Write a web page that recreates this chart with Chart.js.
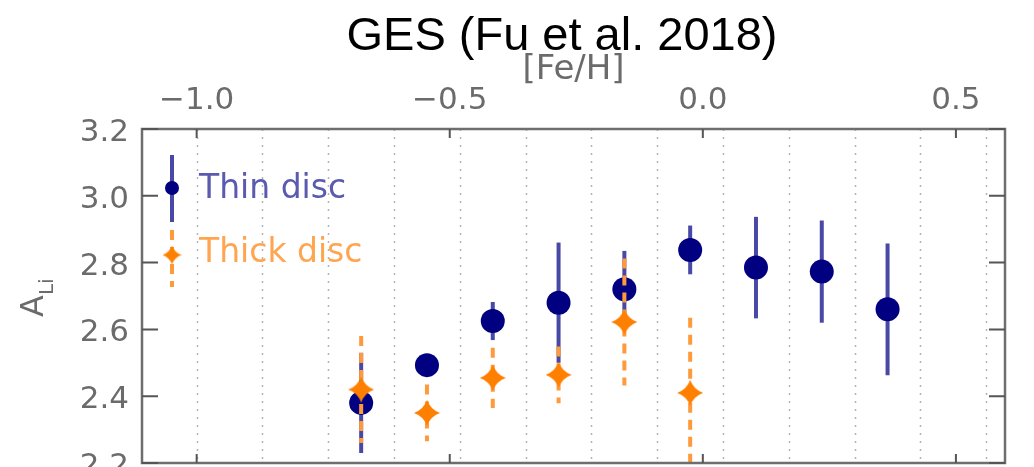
<!DOCTYPE html>
<html>
<head>
<meta charset="utf-8">
<title>GES (Fu et al. 2018)</title>
<script src="https://cdn.jsdelivr.net/npm/chart.js"></script>
<style>
  html, body { margin: 0; padding: 0; background: #fff; }
</style>
</head>
<body>
<canvas id="chart" width="1034" height="467"></canvas>
<script>
// centres des bins en [Fe/H] (largeur 0.13 dex, à partir de -1.0)
const fehBins = [-0.675, -0.545, -0.415, -0.285, -0.155, -0.025, 0.105, 0.235, 0.365];
const binEdges = [-1.0, -0.87, -0.74, -0.61, -0.48, -0.35, -0.22, -0.09, 0.04, 0.17, 0.30, 0.43, 0.56];
// disque mince
const thinLi = [2.38, 2.493, 2.625, 2.68, 2.72, 2.838, 2.785, 2.773, 2.66];
const thinErr = [0.15, 0.03, 0.057, 0.18, 0.115, 0.073, 0.152, 0.153, 0.197];
// disque épais
const thickFeh = [-0.675, -0.545, -0.415, -0.285, -0.155, -0.025];
const thickLi = [2.42, 2.35, 2.455, 2.464, 2.622, 2.41];
const thickErr = [0.16, 0.085, 0.09, 0.085, 0.19, 0.225];
const legendLabels = ['Thin disc', 'Thick disc'];

const NAVY = '#000080';
const NAVY_BAR = '#4848a6';
const ORANGE = '#ff7f00';
const ORANGE_BAR = '#ff9a3c';
const GREY = '#6b6b6b';
const TICK_FONT = { family: 'DejaVu Sans', size: 31, lineHeight: 1.2 };

// étoile à 4 branches pour le disque épais
function makeStar(size, color) {
  const c = document.createElement('canvas');
  c.width = c.height = size;
  const g = c.getContext('2d');
  const r = size / 2, d = r * 0.26;
  g.beginPath();
  g.moveTo(r, 0);
  g.quadraticCurveTo(r + d, r - d, size, r);
  g.quadraticCurveTo(r + d, r + d, r, size);
  g.quadraticCurveTo(r - d, r + d, 0, r);
  g.quadraticCurveTo(r - d, r - d, r, 0);
  g.closePath();
  g.fillStyle = color;
  g.fill();
  return c;
}
const bigStar = makeStar(26, ORANGE);
const smallStar = makeStar(19, ORANGE);

function drawBar(ctx, x, y1, y2, color, dashed) {
  ctx.save();
  ctx.strokeStyle = color;
  ctx.lineWidth = 4;
  if (dashed) ctx.setLineDash([10, 7]);
  ctx.beginPath();
  ctx.moveTo(x, y1);
  ctx.lineTo(x, y2);
  ctx.stroke();
  ctx.restore();
}

const discPlugin = {
  id: 'disc',
  beforeDatasetsDraw(chart) {
    const { ctx, chartArea: a, scales: { x } } = chart;
    ctx.save();
    ctx.strokeStyle = '#b4b4b4';
    ctx.lineWidth = 1.5;
    ctx.setLineDash([2, 6]);
    binEdges.forEach(v => {
      const px = Math.round(x.getPixelForValue(v)) + 0.5;
      ctx.beginPath();
      ctx.moveTo(px, a.top);
      ctx.lineTo(px, a.bottom);
      ctx.stroke();
    });
    ctx.restore();
  },
  beforeDatasetDraw(chart, args) {
    const { ctx, scales: { x, y } } = chart;
    if (args.index === 0) {
      fehBins.forEach((f, i) => {
        drawBar(ctx, x.getPixelForValue(f), y.getPixelForValue(thinLi[i] + thinErr[i]),
          y.getPixelForValue(thinLi[i] - thinErr[i]), NAVY_BAR, false);
      });
    } else {
      thickFeh.forEach((f, i) => {
        drawBar(ctx, x.getPixelForValue(f), y.getPixelForValue(thickLi[i] + thickErr[i]),
          y.getPixelForValue(thickLi[i] - thickErr[i]), ORANGE_BAR, true);
      });
    }
  },
  afterDraw(chart) {
    const { ctx, chartArea: a, scales: { x, y } } = chart;
    ctx.save();
    // cadre
    ctx.strokeStyle = '#6e6e6e';
    ctx.lineWidth = 2.5;
    ctx.strokeRect(a.left, a.top, a.right - a.left, a.bottom - a.top);
    // graduations vers l'intérieur
    ctx.lineWidth = 2;
    ctx.strokeStyle = '#555';
    x.ticks.forEach(t => {
      if (t.value < x.min || t.value > x.max) return;
      const px = x.getPixelForValue(t.value);
      const len = Math.round(t.value * 10) % 5 === 0 ? 9 : 4;
      ctx.beginPath();
      ctx.moveTo(px, a.top); ctx.lineTo(px, a.top + len);
      ctx.moveTo(px, a.bottom); ctx.lineTo(px, a.bottom - len);
      ctx.stroke();
    });
    y.ticks.forEach(t => {
      const py = y.getPixelForValue(t.value);
      const len = Math.round(t.value * 100) % 20 === 0 ? 16 : 8;
      ctx.beginPath();
      ctx.moveTo(a.left, py); ctx.lineTo(a.left + len, py);
      ctx.moveTo(a.right, py); ctx.lineTo(a.right - len, py);
      ctx.stroke();
    });

    // légende
    const lx = a.left + 30;
    const ly1 = a.top + 59, ly2 = a.top + 126;
    drawBar(ctx, lx, ly1 - 33, ly1 + 34, NAVY_BAR, false);
    ctx.fillStyle = NAVY;
    ctx.beginPath();
    ctx.arc(lx, ly1, 7, 0, Math.PI * 2);
    ctx.fill();
    drawBar(ctx, lx, ly2 - 25, ly2 + 32, ORANGE_BAR, true);
    ctx.drawImage(smallStar, lx - 9.5, ly2 - 9.5);
    ctx.font = '33px "DejaVu Sans"';
    ctx.textBaseline = 'middle';
    ctx.textAlign = 'left';
    ctx.fillStyle = '#5a5ab0';
    ctx.fillText(legendLabels[0], lx + 27, ly1 + 1);
    ctx.fillStyle = '#ffa550';
    ctx.fillText(legendLabels[1], lx + 27, ly2 - 2);

    // titre
    ctx.fillStyle = '#000';
    ctx.textAlign = 'center';
    ctx.textBaseline = 'alphabetic';
    ctx.font = '47px "Liberation Sans"';
    ctx.fillText('GES (Fu et al. 2018)', 562, 50);

    // titre axe y : A_Li
    ctx.save();
    ctx.translate(43, a.top + 188);
    ctx.rotate(-Math.PI / 2);
    ctx.fillStyle = GREY;
    ctx.textAlign = 'left';
    ctx.font = '32px "DejaVu Sans"';
    ctx.fillText('A', 0, 0);
    const w = ctx.measureText('A').width;
    ctx.font = '20px "DejaVu Sans"';
    ctx.fillText('Li', w, 10);
    ctx.restore();
    ctx.restore();
  }
};

new Chart(document.getElementById('chart'), {
  type: 'scatter',
  data: {
    datasets: [
      {
        label: legendLabels[0],
        data: fehBins.map((f, i) => ({ x: f, y: thinLi[i] })),
        pointStyle: 'circle',
        pointRadius: 12,
        pointHoverRadius: 12,
        backgroundColor: NAVY,
        borderColor: NAVY,
        borderWidth: 0,
        order: 2
      },
      {
        label: legendLabels[1],
        data: thickFeh.map((f, i) => ({ x: f, y: thickLi[i] })),
        pointStyle: bigStar,
        pointRadius: 13,
        backgroundColor: ORANGE,
        borderColor: ORANGE,
        order: 1
      }
    ]
  },
  options: {
    responsive: false,
    animation: false,
    devicePixelRatio: 1,
    clip: false,
    layout: { autoPadding: false, padding: { top: 53, right: 29, bottom: 4, left: 0 } },
    plugins: {
      legend: { display: false },
      title: { display: false },
      tooltip: { enabled: false }
    },
    scales: {
      x: {
        type: 'linear',
        position: 'top',
        min: -1.108,
        max: 0.597,
        grid: { display: false, drawTicks: false },
        border: { display: false },
        title: {
          display: true,
          text: '[Fe/H]',
          color: GREY,
          font: { family: 'DejaVu Sans', size: 34, lineHeight: 1 },
          padding: { top: 0, bottom: 0 }
        },
        ticks: {
          stepSize: 0.1,
          includeBounds: false,
          autoSkip: false,
          maxRotation: 0,
          padding: 9,
          color: GREY,
          font: TICK_FONT,
          callback: v => {
            const r = Math.round(v * 10);
            if (r % 5 !== 0) return null;
            if (r === 0) return '0.0';
            return (r / 10).toFixed(1).replace('-', '\u2212');
          }
        },
        afterFit: s => {
          s.height = 76;
          s.paddingLeft = 0;
          s.paddingRight = 0;
        }
      },
      y: {
        type: 'linear',
        min: 2.2,
        max: 3.2,
        grid: { display: false, drawTicks: false },
        border: { display: false },
        ticks: {
          stepSize: 0.05,
          autoSkip: false,
          padding: 13,
          labelOffset: 4,
          color: GREY,
          font: TICK_FONT,
          callback: v => (Math.round(v * 100) % 20 === 0 ? v.toFixed(1) : null)
        },
        afterFit: s => {
          s.width = 142;
          s.paddingTop = 0;
          s.paddingBottom = 0;
        }
      }
    }
  },
  plugins: [discPlugin]
});
</script>
</body>
</html>
